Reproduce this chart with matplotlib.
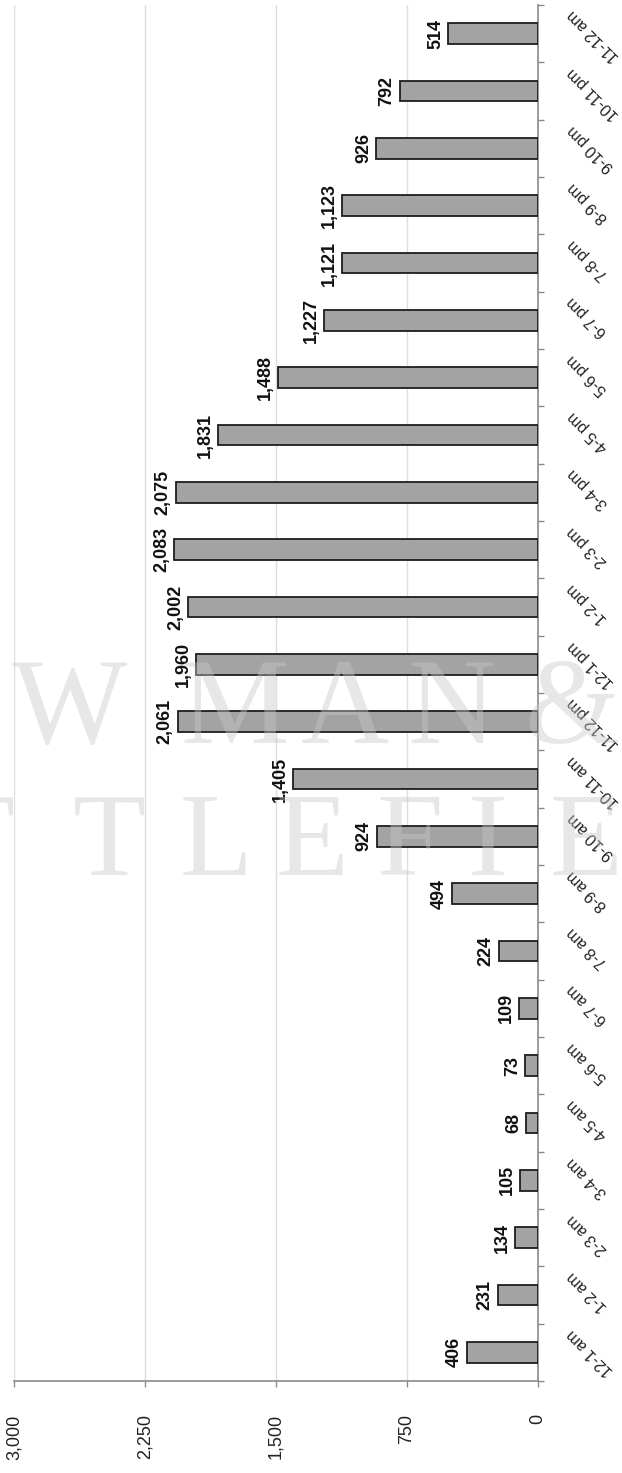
#!/usr/bin/env python3
"""
Nombre d'appels par tranche horaire (barres, graphique pivoté)
"""

import numpy as np
import matplotlib
matplotlib.use("Agg")
import matplotlib.pyplot as plt
from matplotlib.ticker import FixedLocator

# Données
hours = ['12-1 am', '1-2 am', '2-3 am', '3-4 am', '4-5 am', '5-6 am',
         '6-7 am', '7-8 am', '8-9 am', '9-10 am', '10-11 am', '11-12 pm',
         '12-1 pm', '1-2 pm', '2-3 pm', '3-4 pm', '4-5 pm', '5-6 pm',
         '6-7 pm', '7-8 pm', '8-9 pm', '9-10 pm', '10-11 pm', '11-12 am']
counts = [406, 231, 134, 105, 68, 73, 109, 224, 494, 924, 1405, 2061,
          1960, 2002, 2083, 2075, 1831, 1488, 1227, 1121, 1123, 926, 792, 514]
value_ticks = [0, 750, 1500, 2250, 3000]
value_tick_labels = ['0', '750', '1,500', '2,250', '3,000']

# Filigrane (éditeur)
wm_line1 = ['W', 'M', 'A', 'N', '&']
wm_line1_x = [70, 235, 345, 452, 572]
wm_line2 = ['T', 'T', 'L', 'E', 'F', 'I', 'E']
wm_line2_x = [-22, 109, 216, 312, 410, 488, 586]

plt.rcParams['font.family'] = ['Liberation Sans', 'DejaVu Sans']

W, H = 622, 1473
fig = plt.figure(figsize=(W / 100, H / 100), dpi=100)
ax = fig.add_axes([14 / W, (H - 1381) / H, 524 / W, 1376 / H])

y = np.arange(len(hours))
ax.barh(y, counts, height=0.36, color='#a3a3a3', edgecolor='#1e1e1e',
        linewidth=1.3, zorder=3)

ax.set_xlim(3000, 0)
ax.set_ylim(-0.5, len(hours) - 0.5)

# Axe des valeurs (en bas)
ax.set_xticks(value_ticks)
ax.set_xticklabels(value_tick_labels, rotation=90, fontsize=13,
                   color='#222222', va='top', ha='center')
ax.tick_params(axis='x', direction='out', length=4, width=1,
               color='#8a8a8a', pad=20)
ax.xaxis.grid(True, color='#dedede', linewidth=1, zorder=0)

# Axe des catégories (à droite), graduations entre les barres
ax.yaxis.tick_right()
ax.yaxis.set_major_locator(FixedLocator(np.arange(-0.5, len(hours), 1.0)))
ax.set_yticklabels([])
ax.tick_params(axis='y', direction='out', length=4, width=1,
               color='#8a8a8a')

for side in ['top', 'left']:
    ax.spines[side].set_visible(False)
for side in ['bottom', 'right']:
    ax.spines[side].set_color('#8a8a8a')
    ax.spines[side].set_linewidth(1.2)

# Étiquettes des catégories, inclinées
for i, lab in enumerate(hours):
    ax.annotate(lab, xy=(0, i), xytext=(23, 15), textcoords='offset points',
                rotation=135, rotation_mode='anchor', ha='right',
                va='center', fontsize=11.5, color='#222222',
                annotation_clip=False)

# Valeurs au bout des barres
for i, v in enumerate(counts):
    ax.annotate(f'{v:,}', xy=(v, i), xytext=(-3, 0),
                textcoords='offset points', rotation=90, ha='right',
                va='center', fontsize=13, fontweight='bold',
                color='#111111', zorder=5)

# Filigrane
for letter, xp in zip(wm_line1, wm_line1_x):
    fig.text(xp / W, 1 - 743 / H, letter, fontsize=88,
             family=['Liberation Serif', 'DejaVu Serif'], color='#c8c8c8',
             alpha=0.42, ha='center', va='baseline', zorder=10)
for letter, xp in zip(wm_line2, wm_line2_x):
    fig.text(xp / W, 1 - 875 / H, letter, fontsize=86,
             family=['Liberation Serif', 'DejaVu Serif'], color='#c8c8c8',
             alpha=0.42, ha='center', va='baseline', zorder=10)

plt.savefig('out.png', dpi=100)
plt.close()
